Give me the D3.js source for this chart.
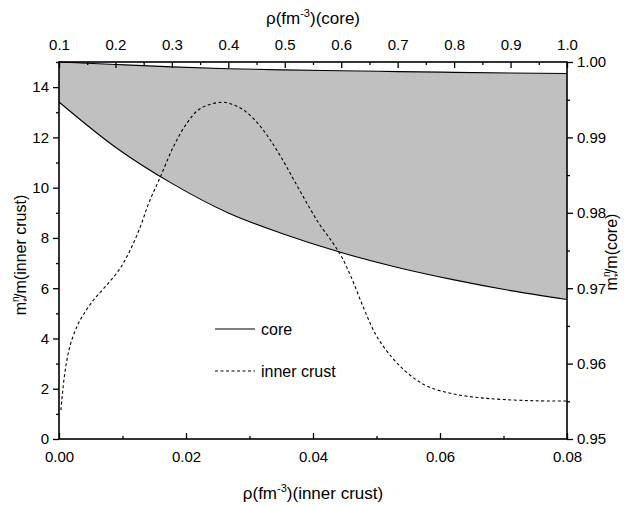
<!DOCTYPE html>
<html>
<head>
<meta charset="utf-8">
<script src="https://cdn.jsdelivr.net/npm/d3@7/dist/d3.min.js"></script>
<style>
  body { margin: 0; background: #fff; }
  svg { display: block; }
  text { font-family: Arial, "Liberation Sans", sans-serif; fill: #000; }
</style>
</head>
<body>
<svg id="chart" width="624" height="506"></svg>
<script>
// Core density (top axis, fm^-3) and the effective-mass band (right axis)
const coreRho   = [0.1, 0.2, 0.3, 0.4, 0.5, 0.6, 0.7, 0.8, 0.9, 1.0];
const coreUpper = [1.0000, 0.99967, 0.99936, 0.99911, 0.99895, 0.99883, 0.99873, 0.99863, 0.99854, 0.99847];
const coreLower = [0.9947, 0.9887, 0.9839, 0.97997, 0.97712, 0.97473, 0.97275, 0.97110, 0.96968, 0.96850];

// Inner crust density (bottom axis, fm^-3) and effective mass (left axis)
const crustRho  = [0.0003, 0.0009, 0.0017, 0.0028, 0.0038, 0.0054, 0.0075, 0.0096, 0.0112, 0.0128,
                   0.0142, 0.0159, 0.0180, 0.0201, 0.0222, 0.0256, 0.0274, 0.0290, 0.0310, 0.0330,
                   0.0350, 0.0370, 0.0390, 0.0410, 0.0430, 0.0445, 0.0460, 0.0480, 0.0500, 0.0526,
                   0.0550, 0.0580, 0.0620, 0.0660, 0.0700, 0.0750, 0.0800];
const crustMass = [1.15, 2.60, 3.67, 4.46, 4.93, 5.52, 6.12, 6.78, 7.51, 8.44,
                   9.43, 10.39, 11.62, 12.55, 13.14, 13.40, 13.30, 13.10, 12.65, 12.00,
                   11.20, 10.30, 9.40, 8.55, 7.85, 7.25, 6.45, 5.20, 4.10, 3.20,
                   2.60, 2.10, 1.80, 1.65, 1.57, 1.52, 1.51];

// Tick values
const bottomTicks = [0, 0.02, 0.04, 0.06, 0.08];
const bottomMinor = [0.01, 0.03, 0.05, 0.07];
const topTicks    = [0.1, 0.2, 0.3, 0.4, 0.5, 0.6, 0.7, 0.8, 0.9, 1.0];
const topMinor    = [0.15, 0.25, 0.35, 0.45, 0.55, 0.65, 0.75, 0.85, 0.95];
const leftTicks   = [0, 2, 4, 6, 8, 10, 12, 14];
const leftMinor   = [1, 3, 5, 7, 9, 11, 13, 15];
const rightTicks  = [0.95, 0.96, 0.97, 0.98, 0.99, 1.00];
const rightMinor  = [0.955, 0.965, 0.975, 0.985, 0.995];

const svg = d3.select("#chart");
const L = 59, R = 567, T = 62, B = 439;

const xB = d3.scaleLinear().domain([0, 0.08]).range([L, R]);
const xT = d3.scaleLinear().domain([0.1, 1.0]).range([L, R]);
const yL = d3.scaleLinear().domain([0, 15]).range([B, T]);
const yR = d3.scaleLinear().domain([0.95, 1.00]).range([B, T]);

const core = coreRho.map((r, i) => ({ r, hi: coreUpper[i], lo: coreLower[i] }));
const crust = crustRho.map((r, i) => ({ r, m: crustMass[i] }));

// Shaded band for the core
svg.append("path")
  .datum(core)
  .attr("fill", "#c0c0c0")
  .attr("d", d3.area().x(d => xT(d.r)).y0(d => yR(d.lo)).y1(d => yR(d.hi)).curve(d3.curveMonotoneX));

["hi", "lo"].forEach(k => {
  svg.append("path")
    .datum(core)
    .attr("fill", "none").attr("stroke", "#000").attr("stroke-width", 1.1)
    .attr("d", d3.line().x(d => xT(d.r)).y(d => yR(d[k])).curve(d3.curveMonotoneX));
});

// Inner crust curve
svg.append("path")
  .datum(crust)
  .attr("fill", "none").attr("stroke", "#000").attr("stroke-width", 1.1)
  .attr("stroke-dasharray", "3,2.5")
  .attr("d", d3.line().x(d => xB(d.r)).y(d => yL(d.m)).curve(d3.curveCatmullRom));

// Axes
function styleAxis(g) {
  g.select(".domain").remove();
  g.selectAll(".tick line").attr("stroke", "#000").attr("stroke-width", 1.3);
  g.selectAll("text").attr("font-size", 15).style("font-family", "Arial, 'Liberation Sans', sans-serif");
}

// bottom
svg.append("g").attr("transform", `translate(0,${B})`)
  .call(d3.axisBottom(xB).tickValues(bottomTicks).tickSizeInner(-6).tickSizeOuter(0).tickPadding(12).tickFormat(d3.format(".2f")))
  .call(styleAxis);
svg.append("g").attr("transform", `translate(0,${B})`)
  .call(d3.axisBottom(xB).tickValues(bottomMinor).tickSizeInner(-3).tickSizeOuter(0).tickFormat(""))
  .call(styleAxis);
// top
svg.append("g").attr("transform", `translate(0,${T})`)
  .call(d3.axisTop(xT).tickValues(topTicks).tickSizeInner(-6).tickSizeOuter(0).tickPadding(12).tickFormat(d3.format(".1f")))
  .call(styleAxis);
svg.append("g").attr("transform", `translate(0,${T})`)
  .call(d3.axisTop(xT).tickValues(topMinor).tickSizeInner(-3).tickSizeOuter(0).tickFormat(""))
  .call(styleAxis);
// left
svg.append("g").attr("transform", `translate(${L},0)`)
  .call(d3.axisLeft(yL).tickValues(leftTicks).tickSizeInner(6).tickSizeOuter(0).tickPadding(4).tickFormat(d3.format("d")))
  .call(styleAxis);
svg.append("g").attr("transform", `translate(${L},0)`)
  .call(d3.axisLeft(yL).tickValues(leftMinor).tickSizeInner(3).tickSizeOuter(0).tickFormat(""))
  .call(styleAxis);
// right
svg.append("g").attr("transform", `translate(${R},0)`)
  .call(d3.axisRight(yR).tickValues(rightTicks).tickSizeInner(6).tickSizeOuter(0).tickPadding(4).tickFormat(d3.format(".2f")))
  .call(styleAxis);
svg.append("g").attr("transform", `translate(${R},0)`)
  .call(d3.axisRight(yR).tickValues(rightMinor).tickSizeInner(3).tickSizeOuter(0).tickFormat(""))
  .call(styleAxis);

// Frame
svg.append("rect")
  .attr("x", L).attr("y", T).attr("width", R - L).attr("height", B - T)
  .attr("fill", "none").attr("stroke", "#000").attr("stroke-width", 1.6);

// Axis titles
function rhoTitle(x, y, suffix) {
  const t = svg.append("text").attr("x", x).attr("y", y).attr("text-anchor", "middle").attr("font-size", 17);
  t.append("tspan").text("ρ(fm");
  t.append("tspan").attr("dy", -7).attr("font-size", 11).text("-3");
  t.append("tspan").attr("dy", 7).text(")(" + suffix + ")");
}
rhoTitle(313, 24, "core");
rhoTitle(313, 499, "inner crust");

function massTitle(x, y, suffix) {
  const t = svg.append("text")
    .attr("transform", `translate(${x},${y}) rotate(-90)`)
    .attr("text-anchor", "middle").attr("font-size", 16);
  t.append("tspan").text("m");
  t.append("tspan").attr("dy", -7).attr("font-size", 10).text("n");
  t.append("tspan").attr("dx", -5.5).attr("dy", 12).attr("font-size", 10).text("*");
  t.append("tspan").attr("dy", -5).text("/m(" + suffix + ")");
}
massTitle(26, 255, "inner crust");
massTitle(617, 252, "core");

// Legend
const legend = [
  { label: "core", dash: null, y: 329 },
  { label: "inner crust", dash: "3,2.5", y: 371 }
];
legend.forEach(d => {
  svg.append("line")
    .attr("x1", 215).attr("x2", 255).attr("y1", d.y).attr("y2", d.y)
    .attr("stroke", "#000").attr("stroke-width", 1.1)
    .attr("stroke-dasharray", d.dash);
  svg.append("text").attr("x", 261).attr("y", d.y).attr("dy", "0.35em")
    .attr("font-size", 16).text(d.label);
});
</script>
</body>
</html>
